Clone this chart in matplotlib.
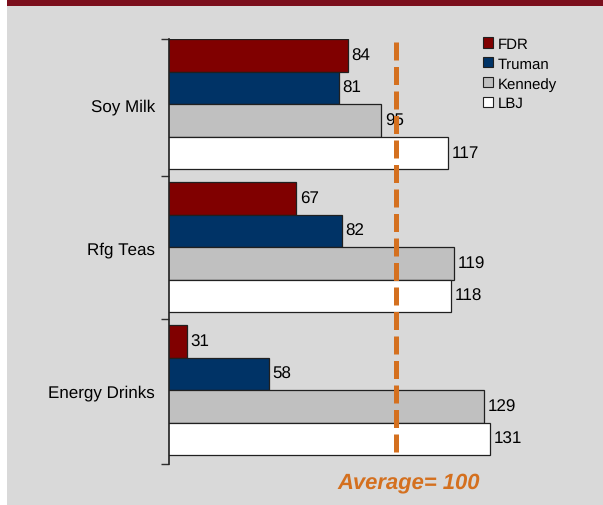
import matplotlib.pyplot as plt
from matplotlib.patches import Patch, Rectangle
import numpy as np

plt.rcParams['font.family'] = ['Liberation Sans', 'DejaVu Sans']
plt.rcParams['text.hinting'] = 'no_hinting'
plt.rcParams['text.hinting_factor'] = 1

categories = ['Soy Milk', 'Rfg Teas', 'Energy Drinks']
series = ['FDR', 'Truman', 'Kennedy', 'LBJ']
values = {
    'FDR':     [84, 67, 31],
    'Truman':  [81, 82, 58],
    'Kennedy': [95, 119, 129],
    'LBJ':     [117, 118, 131],
}
colors = {'FDR': '#800000', 'Truman': '#003366', 'Kennedy': '#c0c0c0', 'LBJ': '#ffffff'}
average = 100

fig = plt.figure(figsize=(6.03, 5.06), dpi=100)
fig.patch.set_facecolor('white')
# grey panel and dark red band on top
fig.patches.append(Rectangle((7 / 603, 0), 1, 1, transform=fig.transFigure,
                             facecolor='#d9d9d9', edgecolor='none', zorder=-2))
fig.patches.append(Rectangle((7 / 603, 1 - 7 / 506), 1, 7 / 506, transform=fig.transFigure,
                             facecolor='#7b0f1c', edgecolor='none', zorder=-1))

ax = fig.add_axes([169 / 603, 41 / 506, 394 / 603, 425 / 506])
ax.set_facecolor('none')

y = np.arange(len(categories))
h = 0.227
for k, name in enumerate(series):
    pos = y + (k - 1.5) * h
    ax.barh(pos, values[name], height=h, left=0, color=colors[name],
            edgecolor='#202020', linewidth=0.9, zorder=2)
    for yy, v in zip(pos, values[name]):
        ax.text(v + 1.2, yy, str(v), va='center', ha='left', fontsize=12, color='black')

ax.vlines(average, -0.434, 2.447, colors='#d4701f', linewidth=3.6,
          linestyles=(0, (3.6, 1.3)), zorder=3, capstyle='butt')

ax.set_xlim(25, 155)
ax.set_ylim(2.517, -0.455)

for s in ['top', 'right', 'bottom']:
    ax.spines[s].set_visible(False)
ax.spines['left'].set_color('#202020')
ax.spines['left'].set_linewidth(1.2)
ax.set_xticks([])
ax.set_yticks([-0.455, 0.5, 1.5, 2.517])
ax.set_yticklabels([])
ax.tick_params(axis='y', which='major', length=6, width=1, color='#303030')
ax.set_yticks(y, minor=True)
ax.set_yticklabels(categories, minor=True, fontsize=12.5)
ax.tick_params(axis='y', which='minor', length=0, pad=10)

handles = [Patch(facecolor=colors[n], edgecolor='#202020', linewidth=0.8) for n in series]
fig.legend(handles, series, loc='upper left', bbox_to_anchor=(483 / 603, 1 - 38 / 506),
           frameon=False, fontsize=11, handlelength=0.65, handleheight=0.65,
           handletextpad=0.3, labelspacing=0.38, borderpad=0, borderaxespad=0)

fig.text(409 / 603, 1 - 483 / 506, 'Average= 100', ha='center', va='center',
         fontsize=15.5, fontweight='bold', fontstyle='italic', color='#d4701f')

fig.savefig('out.png', dpi=100)
